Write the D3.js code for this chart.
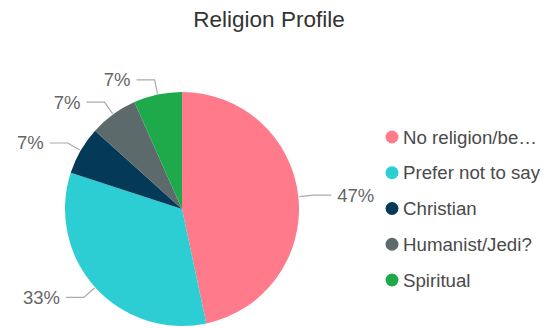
<!DOCTYPE html>
<html>
<head>
<meta charset="utf-8">
<script src="https://cdn.jsdelivr.net/npm/d3@7"></script>
<style>
  html, body { margin: 0; padding: 0; background: #fff; }
  svg { display: block; font-family: "Liberation Sans", Arial, sans-serif; }
</style>
</head>
<body>
<svg id="chart" width="546" height="328"></svg>
<script>
// Survey responses (count of respondents per answer)
const categories = ["No religion/be\u2026", "Prefer not to say", "Christian", "Humanist/Jedi?", "Spiritual"];
const counts = [7, 5, 1, 1, 1];
const colors = ["#FF7A8B", "#2CCDD3", "#043A58", "#5D6A6B", "#1EAA4A"];
const title = "Religion Profile";

const svg = d3.select("#chart");
const cx = 182, cy = 209, R = 117;
const total = d3.sum(counts);

const data = categories.map((c, i) => ({ name: c, value: counts[i], color: colors[i] }));

svg.append("text")
  .attr("x", 269).attr("y", 27)
  .attr("text-anchor", "middle")
  .attr("font-size", 22.5)
  .attr("fill", "#333")
  .text(title);

const pie = d3.pie().value(d => d.value).sort(null);
const arcs = pie(data);
const arc = d3.arc().innerRadius(0).outerRadius(R);

const g = svg.append("g").attr("transform", `translate(${cx},${cy})`);

g.selectAll("path.slice")
  .data(arcs)
  .join("path")
  .attr("class", "slice")
  .attr("d", arc)
  .attr("fill", d => d.data.color);

// Leader lines and percentage labels
const polar = (a, r) => [Math.sin(a) * r, -Math.cos(a) * r];
arcs.forEach(d => {
  const mid = (d.startAngle + d.endAngle) / 2;
  const side = Math.sin(mid) >= 0 ? 1 : -1;
  const p0 = polar(mid, R + 1);
  const p1 = polar(mid, R + 15);
  const p2 = [p1[0] + side * 18, p1[1]];
  g.append("polyline")
    .attr("points", [p0, p1, p2].map(p => p.join(",")).join(" "))
    .attr("fill", "none")
    .attr("stroke", "#aaa")
    .attr("stroke-width", 1.2);
  g.append("text")
    .attr("x", p2[0] + side * 6)
    .attr("y", p2[1])
    .attr("dy", "0.35em")
    .attr("text-anchor", side > 0 ? "start" : "end")
    .attr("font-size", 18.5)
    .attr("fill", "#666")
    .text(Math.round(d.value / total * 100) + "%");
});

// Legend
const legendY = d3.scalePoint().domain(categories).range([137, 280]);
const legend = svg.append("g");
const items = legend.selectAll("g.item")
  .data(data)
  .join("g")
  .attr("class", "item")
  .attr("transform", d => `translate(392,${legendY(d.name)})`);
items.append("circle").attr("r", 6.5).attr("fill", d => d.color);
items.append("text")
  .attr("x", 11).attr("y", 0).attr("dy", "0.35em")
  .attr("font-size", 18.7)
  .attr("fill", "#4a4a4a")
  .text(d => d.name);
</script>
</body>
</html>
